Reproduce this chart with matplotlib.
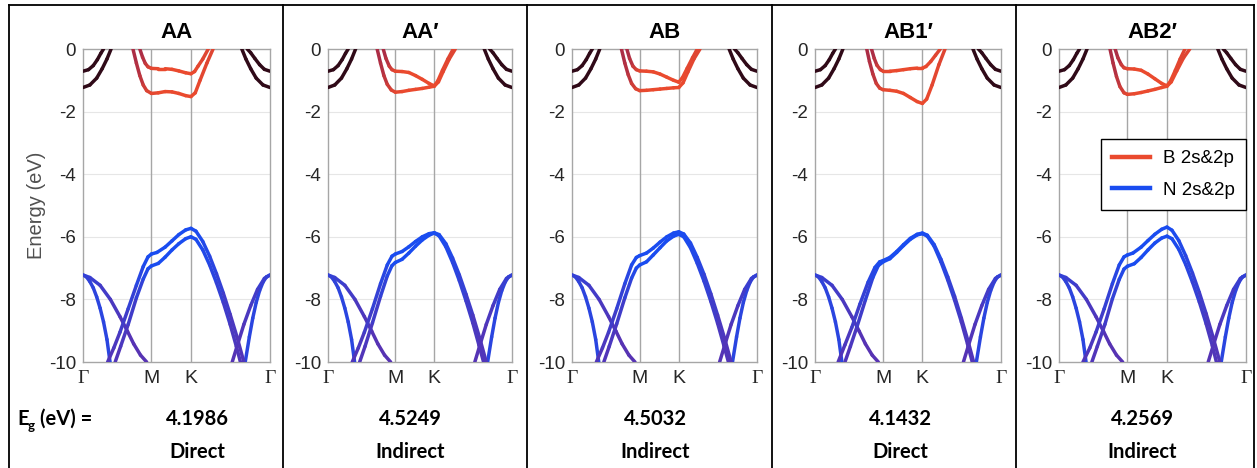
import numpy as np
import matplotlib
matplotlib.use('Agg')
import matplotlib.pyplot as plt
from matplotlib.collections import LineCollection
from matplotlib.lines import Line2D
from matplotlib.colors import to_rgb

# ---------------- data ----------------
TITLES = ['AA', 'AA\u2032', 'AB', 'AB1\u2032', 'AB2\u2032']
GAPS = ['4.1986', '4.5249', '4.5032', '4.1432', '4.2569']
GAP_TYPES = ['Direct', 'Indirect', 'Indirect', 'Direct', 'Indirect']
KTICKS = [0.0, 1.0, 1.577, 2.732]
KLABELS = ['\u0393', 'M', 'K', '\u0393']
YTICKS = [0, -2, -4, -6, -8, -10]
LEGEND_LABELS = ['B 2s&2p', 'N 2s&2p']

# each band: list of (k, E, t)  t = projection weight (0 dim -> 1 bright)
# shared bands near Gamma (conduction, weakly projected)
GCB_L1 = [(0.0, -0.71, 0), (0.08, -0.66, 0), (0.15, -0.53, 0), (0.21, -0.34, 0), (0.26, -0.14, 0), (0.30, 0.0, 0)]
GCB_L2 = [(0.0, -1.23, 0), (0.1, -1.15, 0), (0.2, -0.93, 0), (0.28, -0.63, 0), (0.35, -0.32, 0), (0.41, 0.0, 0)]
GCB_R1 = [(2.732, -0.71, 0), (2.65, -0.65, 0), (2.58, -0.5, 0), (2.51, -0.3, 0), (2.45, -0.12, 0), (2.40, 0.0, 0)]
GCB_R2 = [(2.732, -1.23, 0), (2.63, -1.15, 0), (2.53, -0.93, 0), (2.45, -0.63, 0), (2.38, -0.32, 0), (2.32, 0.0, 0)]
# shared sigma bands near Gamma (valence)
GVB_L1 = [(0.0, -7.22, 0.7), (0.05, -7.28, 0.7), (0.10, -7.43, 0.72), (0.15, -7.63, 0.75), (0.20, -7.92, 0.78),
          (0.25, -8.28, 0.8), (0.30, -8.72, 0.8), (0.35, -9.28, 0.8), (0.395, -10.0, 0.8)]
GVB_L2 = [(0.0, -7.22, 0.7), (0.10, -7.30, 0.65), (0.25, -7.55, 0.55), (0.40, -8.0, 0.45), (0.54, -8.55, 0.35),
          (0.65, -9.02, 0.3), (0.74, -9.42, 0.25), (0.84, -9.78, 0.25), (0.93, -10.0, 0.25)]
GVB_R1 = [(2.732, -7.22, 0.7), (2.68, -7.28, 0.7), (2.63, -7.45, 0.72), (2.58, -7.72, 0.75), (2.53, -8.1, 0.78),
          (2.48, -8.6, 0.8), (2.43, -9.2, 0.8), (2.37, -10.0, 0.8)]
GVB_R2 = [(2.732, -7.22, 0.7), (2.65, -7.33, 0.65), (2.55, -7.68, 0.55), (2.45, -8.2, 0.45), (2.35, -8.8, 0.35),
          (2.25, -9.5, 0.3), (2.18, -10.0, 0.25)]

# panel-specific conduction bands (B-like) and valence bands (N-like)
AA_CB1 = [(0.83, 0.0, 0.3), (0.87, -0.26, 0.35), (0.91, -0.46, 0.5), (0.95, -0.57, 0.7), (1.0, -0.62, 0.9), (1.1, -0.63, 1),
          (1.2, -0.63, 1), (1.3, -0.65, 1), (1.4, -0.70, 1), (1.5, -0.76, 1), (1.577, -0.79, 1), (1.63, -0.72, 1),
          (1.68, -0.55, 0.95), (1.75, -0.32, 0.9), (1.83, 0.0, 0.85)]
AA_CB2 = [(0.73, 0.0, 0.3), (0.78, -0.45, 0.35), (0.83, -0.85, 0.45), (0.88, -1.15, 0.6), (0.93, -1.33, 0.8), (1.0, -1.42, 0.9),
          (1.1, -1.40, 1), (1.2, -1.36, 1), (1.3, -1.37, 1), (1.4, -1.42, 1), (1.5, -1.49, 1), (1.577, -1.52, 1),
          (1.64, -1.40, 1), (1.71, -1.0, 0.95), (1.81, -0.45, 0.9), (1.90, 0.0, 0.85)]
AA_VB1 = [(0.36, -10.0, 0.3), (0.45, -9.55, 0.35), (0.54, -9.05, 0.45), (0.66, -8.3, 0.6), (0.78, -7.55, 0.75), (0.88, -6.95, 0.9),
          (0.95, -6.64, 1), (1.0, -6.55, 1), (1.08, -6.5, 1), (1.2, -6.33, 1), (1.3, -6.13, 1), (1.4, -5.93, 1),
          (1.5, -5.78, 1), (1.577, -5.73, 1), (1.65, -5.82, 1), (1.75, -6.15, 0.95), (1.85, -6.62, 0.85),
          (1.95, -7.18, 0.75), (2.05, -7.8, 0.6), (2.15, -8.48, 0.45), (2.25, -9.2, 0.35), (2.35, -10.0, 0.3)]
AA_VB2 = [(0.47, -10.0, 0.3), (0.55, -9.5, 0.35), (0.66, -8.8, 0.45), (0.78, -7.95, 0.6), (0.88, -7.35, 0.8), (0.95, -7.02, 0.95),
          (1.0, -6.93, 1), (1.1, -6.85, 1), (1.2, -6.65, 1), (1.3, -6.42, 1), (1.4, -6.22, 1), (1.5, -6.06, 1),
          (1.577, -6.0, 1), (1.65, -6.08, 1), (1.75, -6.42, 0.95), (1.85, -6.9, 0.85), (1.95, -7.47, 0.75),
          (2.05, -8.1, 0.6), (2.15, -8.8, 0.45), (2.24, -9.5, 0.35), (2.30, -10.0, 0.3)]

AAP_CB1 = [(0.82, 0.0, 0.3), (0.86, -0.3, 0.35), (0.91, -0.55, 0.55), (0.95, -0.66, 0.75), (1.0, -0.71, 0.9), (1.1, -0.72, 1),
           (1.2, -0.75, 1), (1.3, -0.85, 1), (1.4, -0.97, 1), (1.5, -1.10, 1), (1.577, -1.18, 1), (1.63, -1.02, 1),
           (1.7, -0.68, 0.95), (1.78, -0.32, 0.9), (1.86, 0.0, 0.85)]
AAP_CB2 = [(0.73, 0.0, 0.3), (0.78, -0.45, 0.35), (0.83, -0.85, 0.45), (0.88, -1.13, 0.6), (0.94, -1.31, 0.8), (1.0, -1.38, 0.9),
           (1.1, -1.36, 1), (1.2, -1.32, 1), (1.3, -1.29, 1), (1.4, -1.26, 1), (1.5, -1.22, 1), (1.577, -1.19, 1),
           (1.64, -1.05, 1), (1.71, -0.72, 0.95), (1.8, -0.32, 0.9), (1.89, 0.0, 0.85)]
AAP_VB1 = [(0.36, -10.0, 0.3), (0.45, -9.55, 0.35), (0.54, -9.05, 0.45), (0.66, -8.3, 0.6), (0.78, -7.5, 0.75), (0.88, -6.9, 0.9),
           (0.95, -6.62, 1), (1.0, -6.55, 1), (1.1, -6.47, 1), (1.2, -6.32, 1), (1.3, -6.15, 1), (1.4, -6.0, 1),
           (1.5, -5.9, 1), (1.577, -5.87, 1), (1.65, -5.93, 1), (1.75, -6.22, 0.95), (1.85, -6.68, 0.85),
           (1.95, -7.22, 0.75), (2.05, -7.84, 0.6), (2.15, -8.5, 0.45), (2.25, -9.22, 0.35), (2.35, -10.0, 0.3)]
AAP_VB2 = [(0.47, -10.0, 0.3), (0.55, -9.5, 0.35), (0.66, -8.75, 0.45), (0.78, -7.9, 0.6), (0.88, -7.25, 0.8), (0.95, -6.92, 0.95),
           (1.0, -6.82, 1), (1.1, -6.72, 1), (1.2, -6.52, 1), (1.3, -6.3, 1), (1.4, -6.1, 1), (1.5, -5.95, 1),
           (1.577, -5.88, 1), (1.65, -5.97, 1), (1.75, -6.32, 0.95), (1.85, -6.82, 0.85), (1.95, -7.4, 0.75),
           (2.05, -8.05, 0.6), (2.15, -8.75, 0.45), (2.24, -9.45, 0.35), (2.31, -10.0, 0.3)]

AB_CB1 = [(0.81, 0.0, 0.3), (0.85, -0.3, 0.35), (0.9, -0.55, 0.55), (0.95, -0.66, 0.75), (1.0, -0.70, 0.9), (1.1, -0.71, 1),
          (1.2, -0.73, 1), (1.3, -0.80, 1), (1.4, -0.90, 1), (1.5, -1.00, 1), (1.577, -1.06, 1), (1.63, -0.92, 1),
          (1.7, -0.62, 0.95), (1.78, -0.28, 0.9), (1.85, 0.0, 0.85)]
AB_CB2 = [(0.73, 0.0, 0.3), (0.78, -0.45, 0.35), (0.83, -0.82, 0.45), (0.88, -1.10, 0.6), (0.94, -1.27, 0.8), (1.0, -1.33, 0.9),
          (1.1, -1.32, 1), (1.2, -1.30, 1), (1.3, -1.28, 1), (1.4, -1.26, 1), (1.5, -1.24, 1), (1.577, -1.23, 1),
          (1.64, -1.08, 1), (1.71, -0.74, 0.95), (1.8, -0.32, 0.9), (1.89, 0.0, 0.85)]
AB_VB1 = [(0.36, -10.0, 0.3), (0.45, -9.55, 0.35), (0.54, -9.05, 0.45), (0.66, -8.3, 0.6), (0.78, -7.5, 0.75), (0.88, -6.9, 0.9),
          (0.95, -6.66, 1), (1.0, -6.6, 1), (1.1, -6.52, 1), (1.2, -6.36, 1), (1.3, -6.17, 1), (1.4, -6.0, 1),
          (1.5, -5.88, 1), (1.577, -5.84, 1), (1.65, -5.91, 1), (1.75, -6.2, 0.95), (1.85, -6.66, 0.85),
          (1.95, -7.2, 0.75), (2.05, -7.82, 0.6), (2.15, -8.5, 0.45), (2.25, -9.22, 0.35), (2.35, -10.0, 0.3)]
AB_VB2 = [(0.47, -10.0, 0.3), (0.55, -9.5, 0.35), (0.66, -8.78, 0.45), (0.78, -7.95, 0.6), (0.88, -7.32, 0.8), (0.95, -7.0, 0.95),
          (1.0, -6.9, 1), (1.1, -6.8, 1), (1.2, -6.58, 1), (1.3, -6.35, 1), (1.4, -6.13, 1), (1.5, -5.98, 1),
          (1.577, -5.92, 1), (1.65, -6.0, 1), (1.75, -6.35, 0.95), (1.85, -6.85, 0.85), (1.95, -7.42, 0.75),
          (2.05, -8.06, 0.6), (2.15, -8.76, 0.45), (2.24, -9.45, 0.35), (2.31, -10.0, 0.3)]

AB1P_CB1 = [(0.83, 0.0, 0.3), (0.87, -0.3, 0.35), (0.91, -0.52, 0.55), (0.96, -0.66, 0.75), (1.0, -0.71, 0.9), (1.1, -0.71, 1),
            (1.2, -0.69, 1), (1.3, -0.66, 1), (1.4, -0.63, 1), (1.5, -0.61, 1), (1.577, -0.61, 1), (1.63, -0.56, 1),
            (1.7, -0.40, 0.95), (1.77, -0.2, 0.9), (1.84, 0.0, 0.85)]
AB1P_CB2 = [(0.76, 0.0, 0.3), (0.8, -0.4, 0.35), (0.85, -0.8, 0.45), (0.9, -1.1, 0.6), (0.95, -1.25, 0.8), (1.0, -1.30, 0.9),
            (1.1, -1.32, 1), (1.2, -1.35, 1), (1.3, -1.42, 1), (1.4, -1.55, 1), (1.5, -1.68, 1), (1.577, -1.74, 1),
            (1.64, -1.6, 1), (1.72, -1.15, 0.95), (1.82, -0.5, 0.9), (1.91, 0.0, 0.85)]
AB1P_VB1 = [(0.34, -10.0, 0.3), (0.44, -9.45, 0.35), (0.54, -8.9, 0.45), (0.66, -8.15, 0.6), (0.78, -7.45, 0.75), (0.88, -6.98, 0.9),
            (0.95, -6.8, 1), (1.0, -6.76, 1), (1.1, -6.66, 1), (1.2, -6.47, 1), (1.3, -6.25, 1), (1.4, -6.05, 1),
            (1.5, -5.92, 1), (1.577, -5.88, 1), (1.65, -5.95, 1), (1.75, -6.25, 0.95), (1.85, -6.72, 0.85),
            (1.95, -7.28, 0.75), (2.05, -7.9, 0.6), (2.15, -8.6, 0.45), (2.25, -9.35, 0.35), (2.33, -10.0, 0.3)]
AB1P_VB2 = [(0.44, -10.0, 0.3), (0.52, -9.5, 0.35), (0.62, -8.85, 0.45), (0.74, -8.02, 0.6), (0.85, -7.3, 0.8), (0.93, -6.92, 0.95),
            (1.0, -6.8, 1), (1.1, -6.7, 1), (1.2, -6.5, 1), (1.3, -6.28, 1), (1.4, -6.08, 1), (1.5, -5.94, 1),
            (1.577, -5.9, 1), (1.65, -5.98, 1), (1.75, -6.3, 0.95), (1.85, -6.8, 0.85), (1.95, -7.38, 0.75),
            (2.05, -8.02, 0.6), (2.15, -8.72, 0.45), (2.24, -9.42, 0.35), (2.31, -10.0, 0.3)]

AB2P_CB1 = [(0.82, 0.0, 0.3), (0.86, -0.28, 0.35), (0.91, -0.5, 0.55), (0.95, -0.6, 0.75), (1.0, -0.63, 0.9), (1.1, -0.64, 1),
            (1.2, -0.68, 1), (1.3, -0.8, 1), (1.4, -0.95, 1), (1.5, -1.1, 1), (1.577, -1.18, 1), (1.63, -1.02, 1),
            (1.7, -0.68, 0.95), (1.77, -0.32, 0.9), (1.84, 0.0, 0.85)]
AB2P_CB2 = [(0.745, 0.0, 0.3), (0.79, -0.45, 0.35), (0.84, -0.88, 0.45), (0.89, -1.2, 0.6), (0.95, -1.4, 0.8), (1.0, -1.45, 0.9),
            (1.1, -1.43, 1), (1.2, -1.39, 1), (1.3, -1.34, 1), (1.4, -1.29, 1), (1.5, -1.23, 1), (1.577, -1.19, 1),
            (1.64, -1.05, 1), (1.72, -0.7, 0.95), (1.82, -0.28, 0.9), (1.91, 0.0, 0.85)]
AB2P_VB1 = [(0.35, -10.0, 0.3), (0.45, -9.55, 0.35), (0.54, -9.05, 0.45), (0.66, -8.3, 0.6), (0.78, -7.5, 0.75), (0.88, -6.9, 0.9),
            (0.95, -6.64, 1), (1.0, -6.58, 1), (1.08, -6.52, 1), (1.2, -6.33, 1), (1.3, -6.12, 1), (1.4, -5.92, 1),
            (1.5, -5.76, 1), (1.577, -5.69, 1), (1.65, -5.79, 1), (1.75, -6.12, 0.95), (1.85, -6.6, 0.85),
            (1.95, -7.16, 0.75), (2.05, -7.78, 0.6), (2.15, -8.46, 0.45), (2.25, -9.2, 0.35), (2.35, -10.0, 0.3)]
AB2P_VB2 = [(0.48, -10.0, 0.3), (0.56, -9.5, 0.35), (0.67, -8.8, 0.45), (0.78, -7.98, 0.6), (0.88, -7.36, 0.8), (0.95, -7.03, 0.95),
            (1.0, -6.94, 1), (1.1, -6.86, 1), (1.2, -6.66, 1), (1.3, -6.42, 1), (1.4, -6.2, 1), (1.5, -6.04, 1),
            (1.577, -5.98, 1), (1.65, -6.06, 1), (1.75, -6.4, 0.95), (1.85, -6.88, 0.85), (1.95, -7.45, 0.75),
            (2.05, -8.08, 0.6), (2.15, -8.78, 0.45), (2.24, -9.48, 0.35), (2.30, -10.0, 0.3)]

PANEL_BANDS = [
    (AA_CB1, AA_CB2, AA_VB1, AA_VB2),
    (AAP_CB1, AAP_CB2, AAP_VB1, AAP_VB2),
    (AB_CB1, AB_CB2, AB_VB1, AB_VB2),
    (AB1P_CB1, AB1P_CB2, AB1P_VB1, AB1P_VB2),
    (AB2P_CB1, AB2P_CB2, AB2P_VB1, AB2P_VB2),
]

# ---------------- style ----------------
CB_BRIGHT, CB_DIM, CB_GAMMA = '#ea4a2e', '#8e1f50', '#300a18'
VB_BRIGHT, VB_DIM = '#1a4cf0', '#6b2a9e'
LEG_RED, LEG_BLUE = '#ea4a2e', '#1a4cf0'

W, H = 1257, 468
AX_X = [(83, 270), (328, 512), (572, 757), (815, 1001), (1059, 1246)]
AX_TOP, AX_BOT = 49, 362
DIVIDERS = [283, 527, 772, 1016]
TEXT_X = [197, 410, 655, 900, 1142]

fig = plt.figure(figsize=(W / 100, H / 100), dpi=100)
fig.patch.set_facecolor('white')


def mix(c0, c1, t):
    a, b = np.array(to_rgb(c0)), np.array(to_rgb(c1))
    return tuple(a + (b - a) * t)


def draw_band(ax, band, c_dim, c_bright, lw=2.5):
    pts = np.array([(k, e) for k, e, _ in band])
    ts = np.array([t for _, _, t in band])
    segs = [pts[i:i + 2] for i in range(len(pts) - 1)]
    cols = [mix(c_dim, c_bright, 0.5 * (ts[i] + ts[i + 1])) for i in range(len(pts) - 1)]
    lc = LineCollection(segs, colors=cols, linewidths=lw, capstyle='round', joinstyle='round', zorder=3)
    ax.add_collection(lc)


for i, (x0, x1) in enumerate(AX_X):
    ax = fig.add_axes([x0 / W, 1 - AX_BOT / H, (x1 - x0) / W, (AX_BOT - AX_TOP) / H])
    ax.set_xlim(KTICKS[0], KTICKS[-1])
    ax.set_ylim(-10, 0)
    for y in YTICKS[1:-1]:
        ax.axhline(y, color='#e6e6e6', lw=0.8, zorder=0)
    for xk in KTICKS[1:3]:
        ax.axvline(xk, color='#a6a6a6', lw=1.0, zorder=1)
    for sp in ax.spines.values():
        sp.set_color('#a6a6a6')
        sp.set_linewidth(1.0)
    ax.set_yticks(YTICKS)
    ax.set_yticklabels([str(v) for v in YTICKS], fontsize=13.5, family='Liberation Sans', color='#262626')
    ax.set_xticks(KTICKS)
    ax.set_xticklabels(KLABELS, fontsize=14, color='#262626')
    for lab, txt in zip(ax.get_xticklabels(), KLABELS):
        lab.set_family('Liberation Serif' if txt == '\u0393' else 'Liberation Sans')
    ax.tick_params(length=0, pad=5)
    ax.tick_params(axis='x', pad=6)

    for g in (GCB_L1, GCB_L2, GCB_R1, GCB_R2):
        draw_band(ax, g, CB_GAMMA, CB_GAMMA)
    for g in (GVB_L1, GVB_L2, GVB_R1, GVB_R2):
        draw_band(ax, g, VB_DIM, VB_BRIGHT)
    cb1, cb2, vb1, vb2 = PANEL_BANDS[i]
    for b in (vb2, vb1):
        draw_band(ax, b, VB_DIM, VB_BRIGHT)
    for b in (cb2, cb1):
        draw_band(ax, b, CB_DIM, CB_BRIGHT)

    fig.text((x0 + x1) / 2 / W, 1 - 32 / H, TITLES[i], ha='center', va='center',
             fontsize=16, fontweight='bold', family=['Liberation Sans', 'DejaVu Sans'])
    fig.text(TEXT_X[i] / W, 1 - 419 / H, GAPS[i], ha='center', va='center',
             fontsize=14.5, fontweight='bold', family='Lato')
    fig.text(TEXT_X[i] / W, 1 - 452 / H, GAP_TYPES[i], ha='center', va='center',
             fontsize=14.5, fontweight='bold', family='Lato')

    if i == 0:
        ax.set_ylabel('Energy (eV)', fontsize=14.5, family='Liberation Sans', color='#505050', labelpad=2)
    if i == 4:
        handles = [Line2D([], [], color=LEG_RED, lw=3.2), Line2D([], [], color=LEG_BLUE, lw=3.2)]
        leg = ax.legend(handles, LEGEND_LABELS, loc='upper right', bbox_to_anchor=(1.0, (AX_BOT - 139) / (AX_BOT - AX_TOP)),
                        borderaxespad=0, fancybox=False, framealpha=1, edgecolor='black', handlelength=2.0,
                        prop={'family': 'Liberation Sans', 'size': 13.5}, labelspacing=0.75, borderpad=0.6,
                        handletextpad=0.6, borderaxespad_=None) if False else ax.legend(
            handles, LEGEND_LABELS, loc='upper right', bbox_to_anchor=(1.0, (AX_BOT - 139) / (AX_BOT - AX_TOP)),
            borderaxespad=0, fancybox=False, framealpha=1, edgecolor='black', handlelength=2.0,
            prop={'family': 'Liberation Sans', 'size': 13.5}, labelspacing=0.75, borderpad=0.6,
            handletextpad=0.7)
        leg.get_frame().set_linewidth(1.0)
        leg.set_zorder(10)

# E_g label
fig.text(17 / W, 1 - 419 / H, 'E', ha='left', va='center', fontsize=14.5, fontweight='bold', family='Lato')
fig.text(27.5 / W, 1 - 426 / H, 'g', ha='left', va='center', fontsize=9.5, fontweight='bold', family='Lato')
fig.text(40 / W, 1 - 419 / H, '(eV) =', ha='left', va='center', fontsize=14.5, fontweight='bold', family='Lato')

# panel frame
def vline(x, y0, y1):
    fig.add_artist(Line2D([x / W, x / W], [1 - y0 / H, 1 - y1 / H], color='black', lw=1.3, transform=fig.transFigure))

fig.add_artist(Line2D([9 / W, 1254 / W], [1 - 5 / H, 1 - 5 / H], color='black', lw=1.3, transform=fig.transFigure))
vline(9, 5, 468)
vline(1254, 5, 468)
for d in DIVIDERS:
    vline(d, 5, 468)

fig.savefig('out.png', dpi=100, facecolor='white')
